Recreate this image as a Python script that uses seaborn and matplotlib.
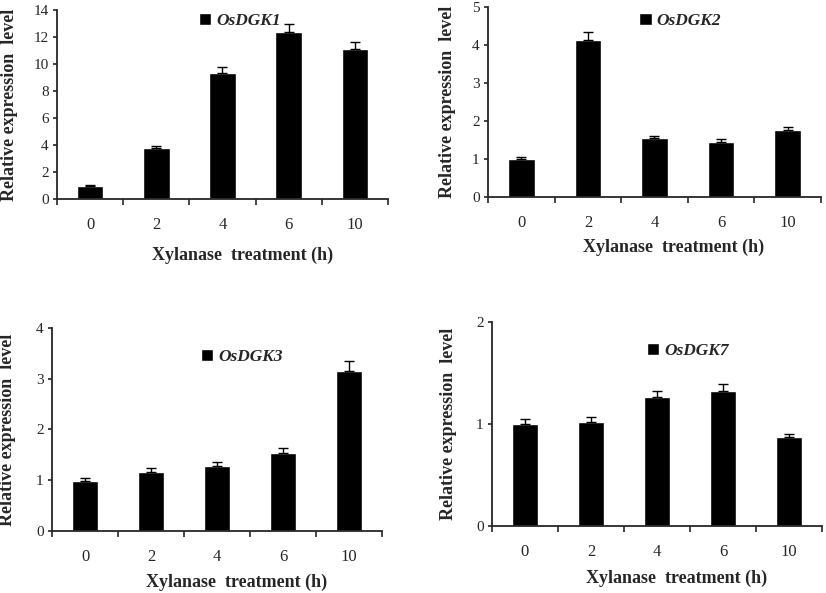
import matplotlib
matplotlib.use("Agg")
import matplotlib.pyplot as plt
import seaborn as sns
import pandas as pd
import numpy as np

times = ["0", "2", "4", "6", "10"]

genes = ["OsDGK1", "OsDGK2", "OsDGK3", "OsDGK7"]
dgk1 = [0.97, 3.75, 9.3, 12.35, 11.08]
dgk1_err = [0.08, 0.2, 0.45, 0.58, 0.52]
dgk2 = [1.0, 4.14, 1.54, 1.45, 1.77]
dgk2_err = [0.05, 0.2, 0.07, 0.07, 0.07]
dgk3 = [0.99, 1.17, 1.28, 1.54, 3.16]
dgk3_err = [0.06, 0.08, 0.08, 0.09, 0.18]
dgk7 = [1.0, 1.02, 1.26, 1.32, 0.87]
dgk7_err = [0.05, 0.05, 0.06, 0.07, 0.03]

y_max = [14, 5, 4, 2]
y_step = [2, 1, 1, 1]

sns.set_style("ticks")
plt.rcParams["font.family"] = ["Liberation Serif", "DejaVu Serif"]

fig = plt.figure(figsize=(8.26, 5.93), dpi=100)

# axes boxes in figure fractions
boxes = [
    [0.069, 0.6644, 0.4007, 0.3187],
    [0.5908, 0.6678, 0.4031, 0.3204],
    [0.063, 0.1046, 0.3995, 0.3423],
    [0.5956, 0.113, 0.3995, 0.344],
]
legend_pos = [(0.43, 0.94), (0.455, 0.925), (0.45, 0.857), (0.47, 0.858)]
xlabel_pos = [(0.56, -0.25), (0.556, -0.222), (0.56, -0.208), (0.558, -0.212)]
ylabel_pos = [-0.118, -0.097, -0.108, -0.106]

values = [dgk1, dgk2, dgk3, dgk7]
errors = [dgk1_err, dgk2_err, dgk3_err, dgk7_err]

for i in range(4):
    ax = fig.add_axes(boxes[i])
    df = pd.DataFrame({"time": times, "value": values[i]})
    sns.barplot(data=df, x="time", y="value", color="black", width=0.4,
                errorbar=None, label=genes[i], ax=ax, saturation=1)
    ax.errorbar(np.arange(len(times)), values[i],
                yerr=[np.zeros(len(times)), errors[i]],
                fmt="none", ecolor="black", elinewidth=1, capsize=3.5, capthick=1)
    ax.set_xlim(-0.5, 4.5)
    ax.set_ylim(0, y_max[i])
    ax.set_yticks(np.arange(0, y_max[i] + 0.01, y_step[i]))
    ax.set_xticks(np.arange(-0.5, 4.6, 1.0), minor=True)
    ax.tick_params(axis="x", which="major", length=0, pad=13, labelsize=12)
    ax.tick_params(axis="x", which="minor", length=4, width=1.2, direction="out")
    ax.tick_params(axis="y", which="major", length=3, width=1.2, pad=3, labelsize=11)
    for s in ["top", "right"]:
        ax.spines[s].set_visible(False)
    for s in ["left", "bottom"]:
        ax.spines[s].set_linewidth(1.3)
    ax.set_xlabel("Xylanase  treatment (h)", fontsize=13, fontweight="bold")
    ax.set_ylabel("Relative expression  level", fontsize=13, fontweight="bold")
    ax.xaxis.set_label_coords(*xlabel_pos[i])
    ax.yaxis.set_label_coords(ylabel_pos[i], 0.5)
    leg = ax.legend(loc="center left", bbox_to_anchor=legend_pos[i], frameon=False,
                    handlelength=0.7, handleheight=0.7, handletextpad=0.3,
                    borderpad=0, borderaxespad=0,
                    prop={"weight": "bold", "style": "italic", "size": 12.5})

fig.savefig("out.png", dpi=100)
